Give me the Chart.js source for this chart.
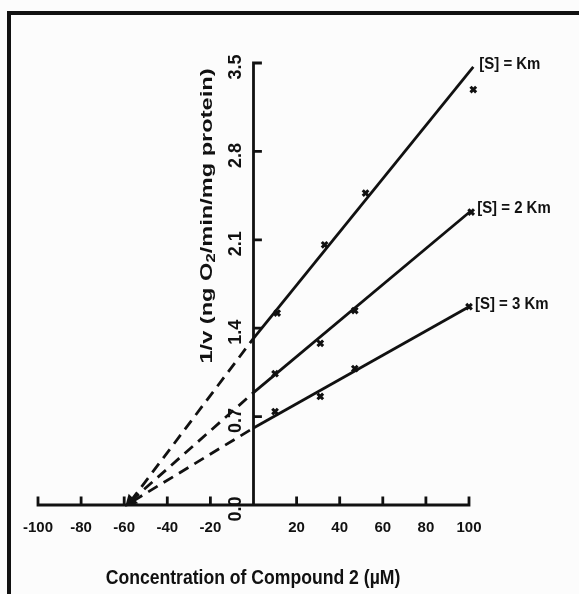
<!DOCTYPE html>
<html>
<head>
<meta charset="utf-8">
<script src="https://cdn.jsdelivr.net/npm/chart.js@4/dist/chart.umd.min.js"></script>
<style>
  html, body { margin: 0; padding: 0; background: #fcfcfc; }
  #wrap { position: relative; width: 579px; height: 594px; overflow: hidden; }
  #frame { position: absolute; left: 7px; top: 11px; width: 600px; height: 620px;
           border-left: 4px solid #111; border-top: 4px solid #111; }
  canvas { position: absolute; left: 0; top: 0; }
</style>
</head>
<body>
<div id="wrap">
  <div id="frame"></div>
  <canvas id="chart" width="579" height="594"></canvas>
</div>
<script>
// Lineweaver-Burk style plot: 1/v vs inhibitor concentration
const X_TICKS = [-100, -80, -60, -40, -20, 0, 20, 40, 60, 80, 100];
const X_TICK_LABELS = ['-100', '-80', '-60', '-40', '-20', '', '20', '40', '60', '80', '100'];
const Y_TICKS = [0, 0.7, 1.4, 2.1, 2.8, 3.5];
const Y_TICK_LABELS = ['0.0', '0.7', '1.4', '2.1', '2.8', '3.5'];
const SERIES_NAMES = ['[S] = Km', '[S] = 2 Km', '[S] = 3 Km'];
const X_TITLE = 'Concentration of Compound 2 (\u00b5M)';

// measured points
const KM1_X = [11, 33, 52, 102];
const KM1_Y = [1.52, 2.06, 2.47, 3.29];
const KM2_X = [10, 31, 47, 101];
const KM2_Y = [1.04, 1.28, 1.54, 2.32];
const KM3_X = [10, 31, 47, 100];
const KM3_Y = [0.74, 0.86, 1.08, 1.57];

// fitted lines (solid) and extrapolations (dashed)
const FIT1_X = [0, 102];
const FIT1_Y = [1.32, 3.47];
const FIT2_X = [0, 101];
const FIT2_Y = [0.89, 2.33];
const FIT3_X = [0, 100];
const FIT3_Y = [0.61, 1.57];
const EXT1_X = [-57, 0];
const EXT1_Y = [0.03, 1.32];
const EXT2_X = [-57, 0];
const EXT2_Y = [0.03, 0.89];
const EXT3_X = [-56, 0];
const EXT3_Y = [0.03, 0.61];

const INK = '#111';
const FONT = "'Liberation Sans', Arial, sans-serif";

const pts = (xs, ys) => xs.map((x, i) => ({ x, y: ys[i] }));

function lineSet(xs, ys, dashed, arrow) {
  return {
    type: 'line',
    data: pts(xs, ys),
    borderColor: INK,
    backgroundColor: INK,
    borderWidth: 2.8,
    borderDash: dashed ? [11, 7] : [],
    pointRadius: arrow ? [5, 0] : 0,
    pointStyle: 'triangle',
    pointRotation: 225,
    showLine: true,
    clip: false,
  };
}

function markerSet(xs, ys) {
  return {
    type: 'scatter',
    data: pts(xs, ys),
    pointStyle: 'crossRot',
    pointRadius: 4,
    borderColor: INK,
    borderWidth: 3,
    clip: false,
  };
}

const axesPlugin = {
  id: 'handAxes',
  beforeDatasetsDraw(chart) {
    const { ctx, scales: { x, y } } = chart;
    const x0 = x.getPixelForValue(0);
    const y0 = y.getPixelForValue(0);
    ctx.save();
    ctx.strokeStyle = INK;
    ctx.lineWidth = 2.8;
    ctx.lineCap = 'square';
    ctx.beginPath();
    ctx.moveTo(x.getPixelForValue(-100), y0);
    ctx.lineTo(x.getPixelForValue(100), y0);
    ctx.moveTo(x0, y0);
    ctx.lineTo(x0, y.getPixelForValue(3.5));
    X_TICKS.forEach((v) => {
      const px = x.getPixelForValue(v);
      ctx.moveTo(px, y0);
      ctx.lineTo(px, y0 - 7);
    });
    Y_TICKS.forEach((v) => {
      const py = y.getPixelForValue(v);
      ctx.moveTo(x0, py);
      ctx.lineTo(x0 + 7, py);
    });
    ctx.stroke();
    ctx.restore();
  },
  afterDraw(chart) {
    const { ctx, scales: { x, y } } = chart;
    const y0 = y.getPixelForValue(0);
    ctx.save();
    ctx.fillStyle = INK;

    // x tick labels
    ctx.font = 'bold 15px ' + FONT;
    ctx.textAlign = 'center';
    ctx.textBaseline = 'middle';
    X_TICKS.forEach((v, i) => {
      ctx.fillText(X_TICK_LABELS[i], x.getPixelForValue(v), y0 + 23);
    });

    // y tick labels, rotated
    ctx.font = 'bold 18px ' + FONT;
    Y_TICKS.forEach((v, i) => {
      ctx.save();
      ctx.translate(x.getPixelForValue(0) - 17, y.getPixelForValue(v) + 4);
      ctx.rotate(-Math.PI / 2);
      ctx.fillText(Y_TICK_LABELS[i], 0, 0);
      ctx.restore();
    });

    // y title with subscript, stretched along its length
    const parts = [
      { t: '1/v (ng O', f: 'bold 17px ' + FONT, dy: 0 },
      { t: '2', f: 'bold 12px ' + FONT, dy: 5 },
      { t: '/min/mg protein)', f: 'bold 17px ' + FONT, dy: 0 },
    ];
    let total = 0;
    parts.forEach((p) => { ctx.font = p.f; p.w = ctx.measureText(p.t).width; total += p.w; });
    ctx.save();
    ctx.translate(207, 216);
    ctx.rotate(-Math.PI / 2);
    ctx.scale(295 / total, 1);
    ctx.textAlign = 'left';
    let cx = -total / 2;
    parts.forEach((p) => { ctx.font = p.f; ctx.fillText(p.t, cx, p.dy); cx += p.w; });
    ctx.restore();

    // x title, condensed
    ctx.save();
    ctx.font = 'bold 20px ' + FONT;
    ctx.translate(253, 578);
    ctx.scale(0.88, 1);
    ctx.textAlign = 'center';
    ctx.fillText(X_TITLE, 0, 0);
    ctx.restore();

    // series labels next to line ends
    ctx.save();
    ctx.font = 'bold 17px ' + FONT;
    ctx.textAlign = 'left';
    const ends = [
      [FIT1_X[1], FIT1_Y[1]],
      [FIT2_X[1], FIT2_Y[1]],
      [FIT3_X[1], FIT3_Y[1]],
    ];
    ends.forEach(([ex, ey], i) => {
      ctx.save();
      ctx.translate(x.getPixelForValue(ex) + 6, y.getPixelForValue(ey) - 2);
      ctx.scale(0.88, 1);
      ctx.fillText(SERIES_NAMES[i], 0, 0);
      ctx.restore();
    });
    ctx.restore();

    ctx.restore();
  },
};

new Chart(document.getElementById('chart'), {
  data: {
    datasets: [
      lineSet(EXT1_X, EXT1_Y, true, false),
      lineSet(EXT2_X, EXT2_Y, true, true),
      lineSet(EXT3_X, EXT3_Y, true, false),
      lineSet(FIT1_X, FIT1_Y, false, false),
      lineSet(FIT2_X, FIT2_Y, false, false),
      lineSet(FIT3_X, FIT3_Y, false, false),
      markerSet(KM1_X, KM1_Y),
      markerSet(KM2_X, KM2_Y),
      markerSet(KM3_X, KM3_Y),
    ],
  },
  options: {
    responsive: false,
    animation: false,
    layout: { padding: { left: 38, right: 110, top: 63, bottom: 89 } },
    plugins: { legend: { display: false }, tooltip: { enabled: false } },
    scales: {
      x: { type: 'linear', min: -100, max: 100, display: false },
      y: { type: 'linear', min: 0, max: 3.5, display: false },
    },
  },
  plugins: [axesPlugin],
});
</script>
</body>
</html>
